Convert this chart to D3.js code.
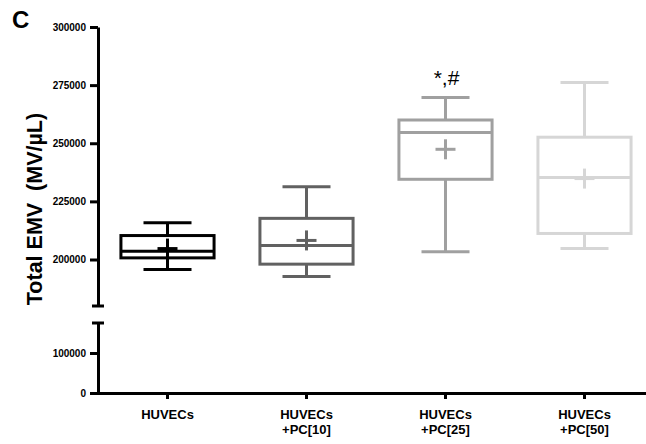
<!DOCTYPE html>
<html>
<head>
<meta charset="utf-8">
<script src="https://d3js.org/d3.v7.min.js"></script>
<style>
  body { margin: 0; background: #fff; }
  svg { font-family: Arial, "Liberation Sans", sans-serif; }
</style>
</head>
<body>
<svg id="chart"></svg>
<script>
  // groups and box statistics
  const categories = ["HUVECs", "HUVECs\n+PC[10]", "HUVECs\n+PC[25]", "HUVECs\n+PC[50]"];
  const whiskerLow = [195700, 192700, 203300, 204700];
  const q1 = [200700, 198000, 234500, 211200];
  const median = [203500, 206000, 254600, 235300];
  const q3 = [210300, 217700, 260000, 252600];
  const whiskerHigh = [215800, 231300, 269700, 276100];
  const mean = [204700, 208200, 247400, 234800];
  const boxColors = ["#000000", "#616161", "#a0a0a0", "#d6d6d6"];
  const upperTicks = [200000, 225000, 250000, 275000, 300000];
  const lowerTicks = [0, 100000];

  const width = 646, height = 444;
  const svg = d3.select("#chart").attr("width", width).attr("height", height);

  // broken y axis: two linear segments
  const yTop = d3.scaleLinear().domain([180000, 300000]).range([306, 27]);
  const yBot = d3.scaleLinear().domain([0, 175000]).range([393, 323]);
  const x = d3.scaleBand().domain(categories).range([98, 654]);

  const styleAxis = g => {
    g.selectAll("path, line").attr("stroke", "#000").attr("stroke-width", 3);
    g.selectAll("text").attr("font-size", 10).attr("font-weight", "bold").attr("fill", "#000");
  };

  svg.append("g")
    .attr("transform", "translate(98,0)")
    .call(d3.axisLeft(yTop).tickValues(upperTicks).tickFormat(d3.format("d")).tickSize(8).tickSizeOuter(0).tickPadding(4))
    .call(styleAxis);

  svg.append("g")
    .attr("transform", "translate(98,0)")
    .call(d3.axisLeft(yBot).tickValues(lowerTicks).tickFormat(d3.format("d")).tickSize(8).tickSizeOuter(0).tickPadding(4))
    .call(styleAxis);

  // caps at the break
  [yTop.range()[0], yBot.range()[1]].forEach(yy => {
    svg.append("line").attr("x1", 92).attr("x2", 104).attr("y1", yy).attr("y2", yy)
      .attr("stroke", "#000").attr("stroke-width", 3);
  });

  // x axis
  const xg = svg.append("g")
    .attr("transform", "translate(0,393)")
    .call(d3.axisBottom(x).tickSize(6).tickSizeOuter(0).tickPadding(11));
  xg.select(".domain").attr("d", "M96.5,0.5H646");
  xg.selectAll("path, line").attr("stroke", "#000").attr("stroke-width", 3);
  xg.selectAll("text").each(function(d) {
    const t = d3.select(this).text("")
      .attr("font-size", 13).attr("font-weight", "bold").attr("fill", "#000");
    d.split("\n").forEach((s, i) => {
      t.append("tspan").attr("x", 0).attr("dy", i === 0 ? "0.71em" : "1.1em").text(s);
    });
  });

  // boxes
  const boxW = x.bandwidth() * 0.67;
  const capW = 48;
  const markW = 20;
  const boxes = svg.append("g").selectAll("g").data(categories).join("g")
    .attr("stroke", (d, i) => boxColors[i])
    .attr("stroke-width", 3)
    .attr("fill", "none");

  boxes.each(function(d, i) {
    const g = d3.select(this);
    const cx = x(d) + x.bandwidth() / 2;
    g.append("line").attr("x1", cx).attr("x2", cx).attr("y1", yTop(whiskerHigh[i])).attr("y2", yTop(q3[i]));
    g.append("line").attr("x1", cx).attr("x2", cx).attr("y1", yTop(q1[i])).attr("y2", yTop(whiskerLow[i]));
    g.append("line").attr("x1", cx - capW / 2).attr("x2", cx + capW / 2).attr("y1", yTop(whiskerHigh[i])).attr("y2", yTop(whiskerHigh[i]));
    g.append("line").attr("x1", cx - capW / 2).attr("x2", cx + capW / 2).attr("y1", yTop(whiskerLow[i])).attr("y2", yTop(whiskerLow[i]));
    g.append("rect").attr("x", cx - boxW / 2).attr("width", boxW)
      .attr("y", yTop(q3[i])).attr("height", yTop(q1[i]) - yTop(q3[i]));
    g.append("line").attr("x1", cx - boxW / 2).attr("x2", cx + boxW / 2).attr("y1", yTop(median[i])).attr("y2", yTop(median[i]));
    // mean marker
    g.append("line").attr("x1", cx - markW / 2).attr("x2", cx + markW / 2).attr("y1", yTop(mean[i])).attr("y2", yTop(mean[i]));
    g.append("line").attr("x1", cx).attr("x2", cx).attr("y1", yTop(mean[i]) - markW / 2).attr("y2", yTop(mean[i]) + markW / 2);
  });

  // significance mark
  svg.append("text")
    .attr("x", x(categories[2]) + x.bandwidth() / 2 + 1)
    .attr("y", 85)
    .attr("text-anchor", "middle")
    .attr("font-size", 21)
    .text("*,#");

  // y axis title
  svg.append("text")
    .attr("transform", "translate(42,209) rotate(-90)")
    .attr("text-anchor", "middle")
    .attr("font-size", 21.5)
    .attr("font-weight", "bold")
    .style("white-space", "pre")
    .text("Total EMV  (MV/\u00b5L)");

  // panel letter
  svg.append("text")
    .attr("x", 12).attr("y", 28)
    .attr("font-size", 24)
    .attr("font-weight", "bold")
    .text("C");
</script>
</body>
</html>
